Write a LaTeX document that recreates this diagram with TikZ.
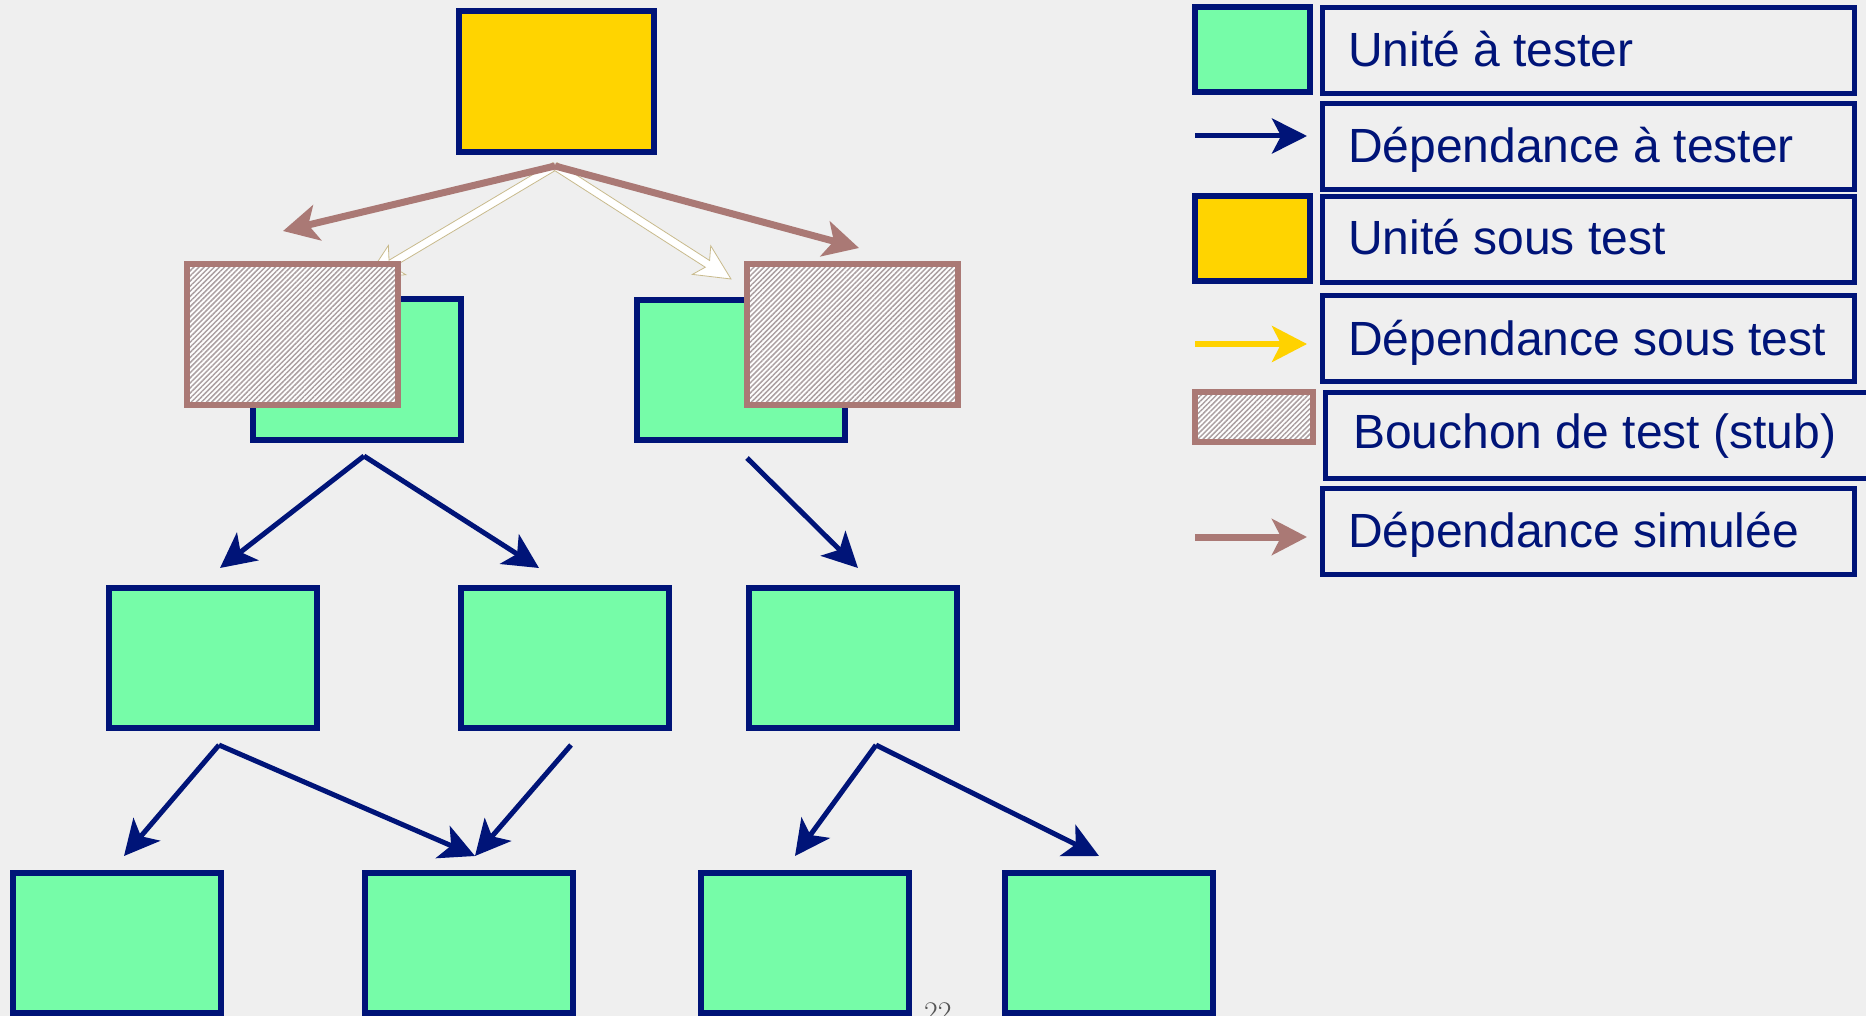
\documentclass[tikz,border=0pt]{standalone}
\usepackage{fontspec}
\newfontfamily\labelfont{Liberation Sans}
\usetikzlibrary{arrows.meta,calc,patterns.meta}

\definecolor{dkblue}{RGB}{0,20,120}
\definecolor{unitgreen}{RGB}{118,252,168}
\definecolor{unityellow}{RGB}{255,212,0}
\definecolor{arrowyellow}{RGB}{255,210,0}
\definecolor{stubrose}{RGB}{170,121,117}
\definecolor{hatchgray}{RGB}{172,160,162}
\definecolor{paper}{RGB}{239,239,239}
\definecolor{hollowedge}{RGB}{200,186,140}
\definecolor{pagegray}{RGB}{85,85,85}

% white arrow with a thin outline, built as a closed shape from #1 to tip #2
\newcommand\hollowarrow[2]{%
  \coordinate (hb) at ($(#2)!35pt!(#1)$);
  \coordinate (hs) at ($(#2)!28pt!(#1)$);
  \path[hollow]
    ($(#1)!4pt!90:(#2)$) -- ($(hs)!4pt!90:(#2)$) -- ($(hb)!17pt!90:(#2)$)
    -- (#2) --
    ($(hb)!17pt!-90:(#2)$) -- ($(hs)!4pt!-90:(#2)$) -- ($(#1)!4pt!-90:(#2)$)
    -- cycle;
}

\begin{document}
\begin{tikzpicture}[x=1pt,y=-1pt,
  unitbox/.style={draw=dkblue, line width=6pt, fill=unitgreen, inner sep=0pt,
    minimum width=208pt, minimum height=140pt},
  sutbox/.style={unitbox, fill=unityellow, minimum width=195pt, minimum height=141pt},
  stubbox/.style={draw=stubrose, line width=6pt, inner sep=0pt,
    preaction={fill=white},
    pattern={Lines[angle=45,distance=3.6pt,line width=1.5pt]}, pattern color=hatchgray,
    minimum width=211pt, minimum height=141pt},
  legsq/.style={draw=dkblue, line width=5.5pt, inner sep=0pt,
    minimum width=115pt, minimum height=85pt},
  labbox/.style={draw=dkblue, line width=5pt, inner sep=0pt,
    minimum width=532pt, minimum height=86pt},
  labtext/.style={anchor=base west, inner sep=0pt, text=dkblue,
    font=\labelfont\fontsize{48}{58}\selectfont},
  depend/.style={draw=dkblue, line width=5pt,
    -{Stealth[length=35pt,width=35pt,inset=9pt]}},
  dependsut/.style={draw=arrowyellow, line width=5.5pt,
    -{Stealth[length=35pt,width=36pt,inset=9pt]}},
  dependsim/.style={draw=stubrose, line width=7pt,
    -{Stealth[length=35pt,width=36pt,inset=9pt]}},
  hollow/.style={fill=white, draw=hollowedge, line width=0.8pt, line join=miter},
]
% paper
\fill[paper] (0,0) rectangle (1866,1016);
\useasboundingbox (0,0) rectangle (1866,1016);

% ---------- unit under test and its stubbed dependencies ----------
\node[sutbox] (sut) at (556.5,81.5) {};
\coordinate (src) at (555,166);
\coordinate (tipWL) at (367,278);
\coordinate (tipWR) at (731,279);
\coordinate (tipBL) at (283,231);
\coordinate (tipBR) at (859,248);

\hollowarrow{src}{tipWL}
\hollowarrow{src}{tipWR}
\draw[dependsim] (src) -- (tipBL);
\draw[dependsim] (src) -- (tipBR);

% second level: real units hidden behind stubs
\node[unitbox] (u2a) at (356.5,369.5) {};
\node[unitbox] (u2b) at (740.5,370) {};
\node[stubbox] (stubL) at (292.5,334.5) {};
\node[stubbox] (stubR) at (852.5,334.5) {};

% third level
\node[unitbox] (u3a) at (212.5,658) {};
\node[unitbox] (u3b) at (564.5,658) {};
\node[unitbox] (u3c) at (852.5,658) {};

% fourth level
\node[unitbox] (u4a) at (116.5,943) {};
\node[unitbox] (u4b) at (468.5,943) {};
\node[unitbox] (u4c) at (804.5,943) {};
\node[unitbox] (u4d) at (1109,943) {};

% dependencies between units
\coordinate (o2a) at (364,456);
\coordinate (o2b) at (747,458);
\coordinate (i3a) at (220,568);
\coordinate (i3b) at (539,568);
\coordinate (i3c) at (858,568);
\coordinate (o3a) at (219,745);
\coordinate (o3b) at (571,745);
\coordinate (o3c) at (876,745);
\coordinate (i4a) at (124,856);
\coordinate (i4b) at (475,856);
\coordinate (i4c) at (795,856);
\coordinate (i4d) at (1099,856);

\draw[depend] (o2a) -- (i3a);
\draw[depend] (o2a) -- (i3b);
\draw[depend] (o2b) -- (i3c);
\draw[depend] (o3a) -- (i4a);
\draw[depend] (o3a) -- (i4b);
\draw[depend] (o3b) -- (i4b);
\draw[depend] (o3c) -- (i4c);
\draw[depend] (o3c) -- (i4d);

% page number
\node[anchor=base west, inner sep=0pt, text=pagegray, font=\fontsize{30}{36}\selectfont]
  (pagenum) at (924,1022) {22};

% ---------- legend ----------
\node[legsq, fill=unitgreen] (lsq1) at (1252.5,49.5) {};
\node[labbox] (lab1) at (1588.5,51) {};
\node[labtext] (t1) at ($(lab1.west)+(28,16)$) {Unité à tester};

\coordinate (la1) at (1195,136);
\coordinate (lb1) at (1307,136);
\draw[depend] (la1) -- (lb1);
\node[labbox] (lab2) at (1588.5,147) {};
\node[labtext] (t2) at ($(lab2.west)+(28,16)$) {Dépendance à tester};

\node[legsq, fill=unityellow] (lsq2) at (1252.5,238.5) {};
\node[labbox] (lab3) at (1588.5,240) {};
\node[labtext] (t3) at ($(lab3.west)+(28,15)$) {Unité sous test};

\coordinate (la2) at (1195,344);
\coordinate (lb2) at (1307,344);
\draw[dependsut] (la2) -- (lb2);
\node[labbox] (lab4) at (1588.5,338.5) {};
\node[labtext] (t4) at ($(lab4.west)+(28,16.5)$) {Dépendance sous test};

\node[stubbox, line width=5.5pt, minimum width=118pt, minimum height=50pt] (lsq3) at (1254,417) {};
\node[labbox, minimum width=562pt] (lab5) at (1606.5,435) {};
\node[labtext] (t5) at ($(lab5.west)+(30,13)$) {Bouchon de test (stub)};

\coordinate (la3) at (1195,537);
\coordinate (lb3) at (1307,537);
\draw[dependsim] (la3) -- (lb3);
\node[labbox] (lab6) at (1588.5,531) {};
\node[labtext] (t6) at ($(lab6.west)+(28,16)$) {Dépendance simulée};
\end{tikzpicture}
\end{document}
